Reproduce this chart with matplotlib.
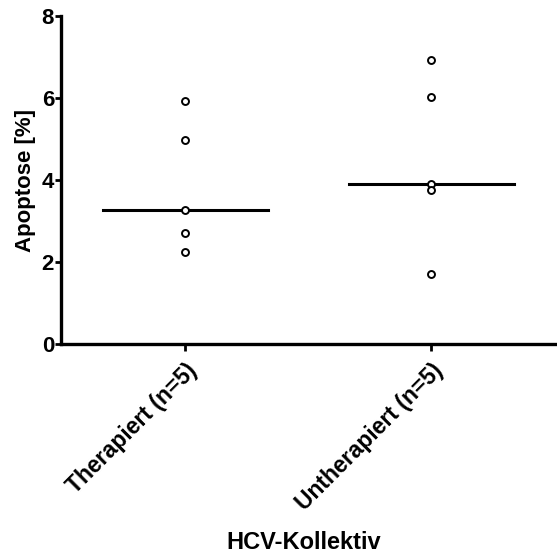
import matplotlib
matplotlib.use("Agg")
import matplotlib.pyplot as plt
import numpy as np

plt.rcParams['font.family'] = ['Liberation Sans', 'DejaVu Sans']
plt.rcParams['font.weight'] = 'bold'

groups = ['Therapiert (n=5)', 'Untherapiert (n=5)']
therapiert = [5.93, 4.98, 3.26, 2.72, 2.24]
untherapiert = [6.92, 6.03, 3.90, 3.76, 1.70]
values = [therapiert, untherapiert]

fig = plt.figure(figsize=(5.57, 5.55), dpi=100)
ax = fig.add_axes([0.1095, 0.380, 0.8905, 0.591])

for i, vals in enumerate(values):
    ax.plot([i] * len(vals), vals, 'o', ms=5, mfc='white', mec='black', mew=1.4,
            linestyle='none', zorder=3)
    med = np.median(vals)
    ax.plot([i - 0.335, i + 0.335], [med, med], color='black', lw=2.2, zorder=2)

ax.set_xlim(-0.505, 1.51)
ax.set_ylim(0, 8)
ax.set_yticks([0, 2, 4, 6, 8])
ax.set_xticks(range(len(groups)))
ax.set_xticklabels(groups, rotation=45, ha='right', rotation_mode='anchor',
                   fontsize=16.5, fontweight='bold')
ax.tick_params(axis='y', labelsize=16, width=2, length=4, pad=1)
ax.tick_params(axis='x', width=2, length=5, pad=6)
for lab in ax.get_yticklabels():
    lab.set_fontweight('bold')

for s in ['top', 'right']:
    ax.spines[s].set_visible(False)
for s in ['left', 'bottom']:
    ax.spines[s].set_linewidth(2.4)

ax.set_ylabel('Apoptose [%]', fontsize=16, fontweight='bold', labelpad=4)
fig.text(0.545, 0.002, 'HCV-Kollektiv', ha='center', va='bottom',
         fontsize=17, fontweight='bold')

fig.savefig('out.png', dpi=100)
